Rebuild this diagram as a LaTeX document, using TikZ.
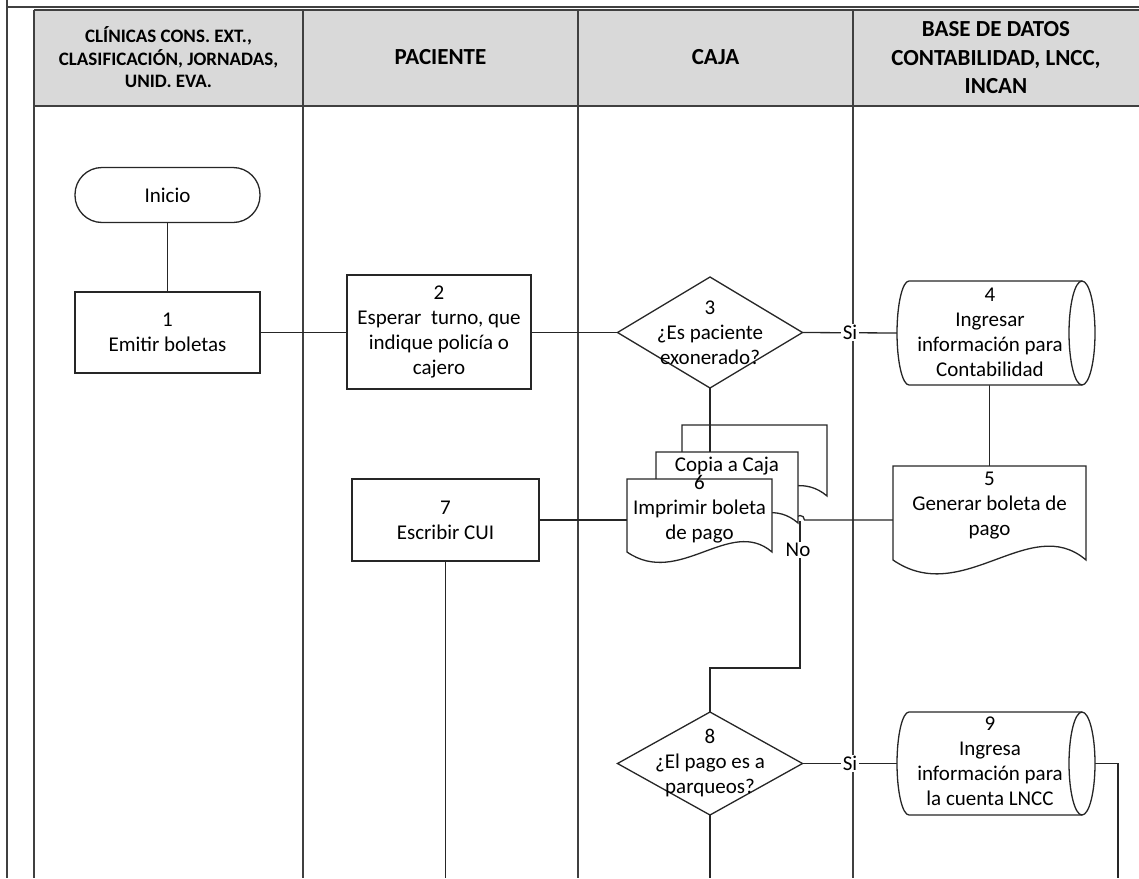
\documentclass[tikz,border=0pt]{standalone}
\usepackage{fontspec}
\setmainfont{Carlito}
\usetikzlibrary{calc}

% horizontal drum (stored data): #1 left x, #2 x of the end ellipse, #3 top y, #4 bottom y
\newcommand\drumshape[4]{%
  \pgfmathsetmacro\dmid{(#3+#4)/2}%
  \pgfmathsetmacro\dry{(#4-#3)/2}%
  \fill[white] ({#1+12},#3) -- (#2,#3) -- (#2,#4) -- ({#1+12},#4)
    .. controls ({#1+5.4},#4) and (#1,{\dmid+0.5523*\dry}) .. (#1,\dmid)
    .. controls (#1,{\dmid-0.5523*\dry}) and ({#1+5.4},#3) .. cycle;
  \draw[shapeline] (#2,#3) -- ({#1+12},#3)
    .. controls ({#1+5.4},#3) and (#1,{\dmid-0.5523*\dry}) .. (#1,\dmid)
    .. controls (#1,{\dmid+0.5523*\dry}) and ({#1+5.4},#4) .. ({#1+12},#4) -- (#2,#4);
  \draw[shapeline,fill=white] (#2,\dmid) ellipse [x radius=13, y radius=\dry];
}
% document with wavy bottom: #1 left x, #2 right x, #3 top y, #4 y of the wave ends, #5 wave depth
\newcommand\docshape[5]{%
  \draw[shapeline] (#1,#3) -- (#2,#3) -- (#2,#4)
    .. controls ({#2-(#2-#1)*0.29},{#4-#5}) and ({#1+(#2-#1)*0.36},{#4+#5}) .. (#1,#4) -- cycle;
}

\begin{document}
\begin{tikzpicture}[x=1pt,y=-1pt,
  gridline/.style={draw=black!75, line width=1.4pt},
  flow/.style={draw=black!85, line width=1.3pt},
  shapeline/.style={draw=black!85, line width=1.3pt, fill=white},
  body/.style={font=\fontsize{21}{25}\selectfont, align=center, text=black, inner sep=0pt},
  hd/.style={font=\bfseries\fontsize{23}{28.5}\selectfont, align=center, text=black, inner sep=0pt},
  hdsmall/.style={font=\bfseries\fontsize{19}{22.5}\selectfont, align=center, text=black, inner sep=0pt},
  shapebox/.style={draw=none, inner sep=0pt, outer sep=0pt},
  procbox/.style={shapeline, body, inner sep=0pt, outer sep=0pt},
  lbl/.style={body, fill=white, inner sep=1.5pt}]

\useasboundingbox (0,0) rectangle (1139,878);

% frame and swimlane header
\fill[gray!30] (34,10) rectangle (1139,106);
\draw[gridline] (7,0) -- (7,878);
\draw[gridline] (7,7) -- (1139,7);
\draw[gridline] (34,10) -- (1139,10);
\draw[gridline] (34,106) -- (1139,106);
\foreach \lx in {34,303,578,853}
  \draw[gridline] (\lx,10) -- (\lx,878);

\node[hdsmall] (h1) at (168.5,57.5) {CLÍNICAS CONS. EXT.,\\CLASIFICACIÓN, JORNADAS,\\UNID. EVA.};
\node[hd] (h2) at (440.5,57) {PACIENTE};
\node[hd] (h3) at (715.5,57) {CAJA};
\node[hd] (h4) at (996,58) {BASE DE DATOS\\CONTABILIDAD, LNCC,\\INCAN};

% node frames
\node[shapebox, minimum width=185pt, minimum height=55pt] (n0) at (167.5,195) {};
\node[shapebox, minimum width=185pt, minimum height=111pt] (n3) at (710,332.5) {};
\node[shapebox, minimum width=185pt, minimum height=104pt] (n4) at (989.5,333) {};
\node[shapebox, minimum width=193pt, minimum height=108pt] (n5) at (989.5,520) {};
\node[shapebox, minimum width=145pt, minimum height=71pt] (n6a) at (754.5,460.5) {};
\node[shapebox, minimum width=142pt, minimum height=71pt] (n6b) at (727,487.5) {};
\node[shapebox, minimum width=145pt, minimum height=82pt] (n6) at (699.5,520) {};
\node[shapebox, minimum width=185pt, minimum height=103pt] (n8) at (710,763.5) {};
\node[shapebox, minimum width=185pt, minimum height=103pt] (n9) at (989.5,763.5) {};

\coordinate (hop) at (800,520);
\coordinate (nobend) at (710,668);
\coordinate (e7) at (445.5,878);
\coordinate (e9) at (1118,878);

% connectors
\draw[flow] (n0.south) -- (167.5,292);
\draw[flow] (260,332.5) -- (347,332.5);
\draw[flow] (531,332.5) -- (n3.west);
\draw[flow] (n3.east) -- (n4.west);
\draw[flow] (n4.south) -- (n5.north);
\draw[flow] (539,520) -- (n6.west);
\draw[flow] (445.5,561) -- (e7);
\draw[flow] (n5.west) -- ($(hop)+(4.5,0)$) .. controls ($(hop)+(4.5,-6)$) and ($(hop)+(-4.5,-6)$) .. ($(hop)+(-4.5,0)$);
\draw[flow] ($(hop)+(0,1)$) -- (hop |- nobend) -- (nobend) -- (n8.north);
\draw[flow] (n8.south) -- (n8.south |- e9);
\draw[flow] (n8.east) -- (n9.west);
\draw[flow] (n9.east) -- (n9.east -| e9) -- (e9);

% shapes
\draw[shapeline, rounded corners=27pt] (n0.south west) rectangle (n0.north east);
\node[body] at (n0) {Inicio};
\node[procbox, minimum width=185pt, minimum height=81pt] (n1) at (167.5,332.5) {1\\Emitir boletas};
\node[procbox, minimum width=184pt, minimum height=114pt] (n2) at (439,332) {2\\Esperar\ \ turno, que\\indique policía o\\cajero};
\draw[shapeline] (n3.west) -- (n3.north) -- (n3.east) -- (n3.south) -- cycle;
\node[body] at (710,332.5) {3\\¿Es paciente\\exonerado?};
\drumshape{897}{1082}{281}{385}
\node[body] at (990,332.5) {4\\Ingresar\\información para\\Contabilidad};
\docshape{893}{1086}{466}{560}{48}
\node[body] at (989.5,506) {5\\Generar boleta de\\pago};

% stacked print documents
\docshape{682}{827}{425}{496}{36}
\draw[flow] (n3.south) -- (n3.south |- n6b.north);
\docshape{656}{798}{452}{523}{36}
\node[body] at (727,466) {Copia a Caja};
\docshape{627}{772}{479}{552}{36}
\node[body] at (699.5,509.5) {6\\Imprimir boleta\\de pago};

\node[procbox, minimum width=187pt, minimum height=82pt] (n7) at (445.5,520) {7\\Escribir CUI};

\draw[shapeline] (n8.west) -- (n8.north) -- (n8.east) -- (n8.south) -- cycle;
\node[body] at (710,763) {8\\¿El pago es a\\parqueos?};
\drumshape{897}{1082}{712}{815}
\node[body] at (990,761) {9\\Ingresa\\información para\\la cuenta LNCC};

% branch labels
\node[lbl] at (850,332.5) {Si};
\node[lbl] at (850,763.5) {Si};
\node[lbl] at (798,550) {No};
\end{tikzpicture}
\end{document}
